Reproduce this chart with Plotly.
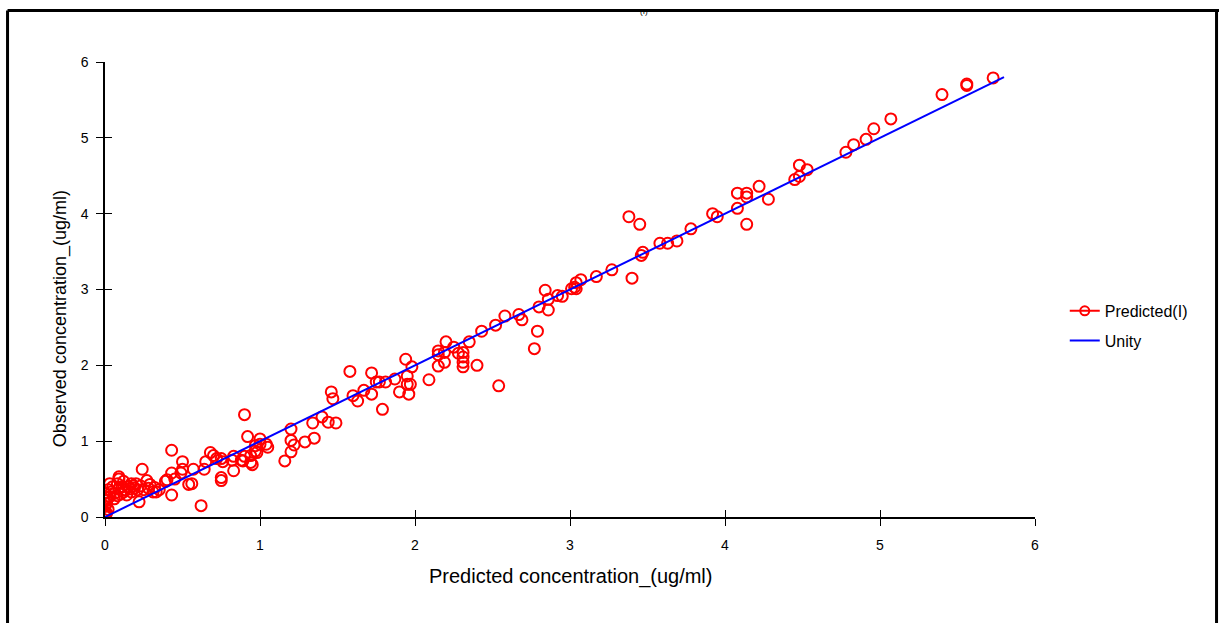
import plotly.graph_objects as go

# Predicted vs observed concentrations (ug/ml)
predicted = [
    5.73, 5.56, 5.56, 5.40, 5.07, 4.96, 4.91, 4.83, 4.78, 4.48, 4.53, 4.48, 4.45,
    4.22, 4.08, 4.14, 4.14, 4.28, 4.08, 4.14, 3.92, 3.95, 3.78, 3.69, 3.63, 3.58,
    3.47, 3.46, 3.38, 3.45, 3.40, 3.27, 3.17, 3.07, 3.04, 3.03, 3.01, 3.04, 2.95,
    2.92, 2.84, 2.86, 2.80, 2.86, 2.67, 2.69, 2.58, 2.52, 2.43, 2.79, 2.77, 2.54,
    2.40, 2.35, 2.20, 2.25, 2.15, 2.15, 2.19, 2.28, 2.31, 2.31, 2.19, 2.15, 2.31,
    2.31, 1.94, 1.98, 2.09, 1.95, 1.95, 1.97, 1.96, 1.90, 1.87, 1.81, 1.77, 1.75,
    1.72, 1.72, 1.67, 1.63, 1.60, 1.58, 1.79, 1.46, 1.47, 1.49, 1.44, 0.90, 1.20,
    1.34, 1.40, 1.20, 1.22, 1.29, 1.35, 1.20, 1.16, 0.92, 1.00, 1.04, 1.05, 0.97,
    1.00, 0.97, 0.98, 0.94, 0.94, 0.95, 0.90, 0.89, 0.88, 0.83, 0.82, 0.83, 0.75,
    0.76, 0.75, 0.75, 0.68, 0.70, 0.72, 0.65, 0.64, 0.57, 0.56, 0.54, 0.50, 0.50,
    0.49, 0.43, 0.62, 0.24, 0.22, 0.43, 0.40, 0.45, 0.43, 0.39, 0.27, 0.28, 0.32,
    0.33, 0.31, 0.20, 0.19, 0.21, 0.17, 0.15, 0.17, 0.12, 0.11, 0.12, 0.09, 0.08,
    0.09, 0.06, 0.05, 0.03, 0.02, 0.03, 0.01, 0.00, 0.00, 0.00, 0.00, 0.00, 0.01,
    0.02, 0.04, 0.06, 0.08, 0.10, 0.13, 0.14, 0.16, 0.18, 0.23, 0.25, 0.29, 0.35,
    0.09, 0.02, 0.01,
]
observed = [
    5.79, 5.71, 5.69, 5.57, 5.25, 5.12, 4.98, 4.91, 4.81, 4.64, 4.58, 4.49, 4.45,
    4.36, 4.27, 4.27, 4.22, 4.19, 4.07, 3.86, 4.00, 3.96, 3.80, 3.64, 3.61, 3.61,
    3.49, 3.45, 3.96, 3.86, 3.15, 3.26, 3.17, 3.13, 3.09, 3.03, 3.01, 3.01, 2.91,
    2.92, 2.99, 2.87, 2.77, 2.73, 2.67, 2.60, 2.65, 2.53, 2.45, 2.45, 2.22, 1.73,
    2.00, 2.31, 2.31, 2.24, 2.19, 2.14, 2.17, 2.16, 2.17, 2.11, 2.04, 1.99, 2.04,
    1.98, 2.08, 1.98, 1.81, 1.86, 1.75, 1.75, 1.62, 1.65, 1.82, 1.78, 1.78, 1.78,
    1.90, 1.62, 1.67, 1.53, 1.60, 1.92, 1.42, 1.65, 1.56, 1.24, 1.25, 1.35, 1.16,
    1.24, 1.32, 1.01, 0.95, 0.99, 1.04, 0.86, 0.74, 1.06, 1.03, 0.96, 0.92, 0.94,
    0.96, 0.87, 0.85, 0.81, 0.72, 0.69, 0.80, 0.74, 0.75, 0.80, 0.75, 0.61, 0.77,
    0.73, 0.52, 0.48, 0.85, 0.81, 0.77, 0.73, 0.63, 0.63, 0.44, 0.43, 0.73, 0.63,
    0.58, 0.88, 0.15, 0.63, 0.20, 0.58, 0.49, 0.50, 0.29, 0.47, 0.48, 0.38, 0.39,
    0.33, 0.33, 0.44, 0.38, 0.36, 0.44, 0.40, 0.33, 0.47, 0.40, 0.33, 0.53, 0.44,
    0.38, 0.31, 0.40, 0.44, 0.36, 0.27, 0.22, 0.31, 0.14, 0.07, 0.03, 0.01, 0.18,
    0.25, 0.33, 0.24, 0.28, 0.30, 0.36, 0.29, 0.37, 0.41, 0.41, 0.36, 0.43, 0.36,
    0.50, 0.10, 0.05,
]
unity = [0.0, 5.8]
tick_vals = [0, 1, 2, 3, 4, 5, 6]

RED = "rgb(255,0,0)"
BLUE = "rgb(0,0,255)"
FONT = "Liberation Sans, Arial, sans-serif"

fig = go.Figure()

fig.add_trace(go.Scatter(
    x=predicted, y=observed, mode="markers", showlegend=False,
    marker=dict(symbol="circle-open", size=11, color=RED, line=dict(width=2, color=RED)),
))
# legend entry for the predicted series (line + marker swatch)
fig.add_trace(go.Scatter(
    x=[None], y=[None], mode="lines+markers", name="Predicted(I)", legendgroup="a",
    line=dict(color=RED, width=2),
    marker=dict(symbol="circle-open", size=9, color=RED, line=dict(width=2, color=RED)),
))
fig.add_trace(go.Scatter(
    x=unity, y=unity, mode="lines", name="Unity", legendgroup="b",
    line=dict(color=BLUE, width=2), xaxis="x2", yaxis="y2",
))

axis_common = dict(
    range=[0, 6], tickvals=tick_vals, showgrid=False, zeroline=False,
    ticklen=7, tickwidth=1, tickcolor="black",
)

fig.update_layout(
    width=1219, height=623,
    margin=dict(l=105, r=184, t=62, b=106),
    paper_bgcolor="white", plot_bgcolor="white",
    font=dict(family=FONT, color="black"),
    xaxis=dict(
        **axis_common, ticks="outside", showline=True, linecolor="black", linewidth=1.5,
        tickfont=dict(size=14), ticklabelstandoff=7,
    ),
    yaxis=dict(
        **axis_common, ticks="outside", showline=True, linecolor="black", linewidth=1.5,
        tickfont=dict(size=14), ticklabelstandoff=5,
    ),
    xaxis2=dict(**axis_common, ticks="inside", overlaying="x", showticklabels=False,
                showline=False, anchor="y2"),
    yaxis2=dict(**axis_common, ticks="inside", overlaying="y", showticklabels=False,
                showline=False, anchor="x2"),
    legend=dict(
        x=1.032, y=0.42, xanchor="left", yanchor="middle",
        font=dict(size=16), tracegroupgap=6, bgcolor="rgba(0,0,0,0)",
    ),
    showlegend=True,
)

# axis titles
fig.add_annotation(
    text="Predicted concentration_(ug/ml)", xref="paper", yref="paper",
    x=0.5, y=-0.1297, xanchor="center", yanchor="middle", showarrow=False,
    font=dict(size=20),
)
fig.add_annotation(
    text="Observed concentration_(ug/ml)", xref="paper", yref="paper",
    x=-0.0484, y=0.437, xanchor="center", yanchor="middle", showarrow=False,
    textangle=-90, font=dict(size=18),
)

# outer frame (top, left, right edges)
frame = dict(type="line", xref="paper", yref="paper", line=dict(color="black", width=3))
fig.add_shape(**frame, x0=-0.1048, x1=1.2, y0=1.1132, y1=1.1132)
fig.add_shape(**frame, x0=-0.1048, x1=-0.1048, y0=1.1132, y1=-0.26)
fig.add_shape(**frame, x0=1.1952, x1=1.1952, y0=1.1132, y1=-0.26)

fig.add_annotation(
    text="(I)", xref="paper", yref="paper", x=0.58, y=1.097,
    xanchor="center", yanchor="bottom", showarrow=False,
    font=dict(size=8, color="black"),
)

fig.write_html("out.html")
